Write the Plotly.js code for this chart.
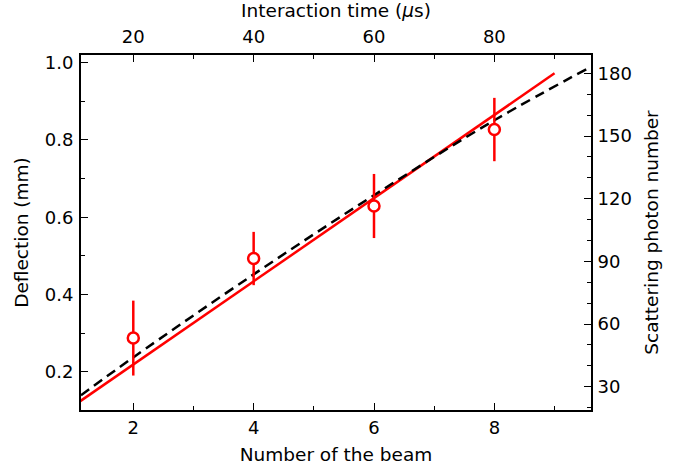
<!DOCTYPE html>
<html>
<head>
<meta charset="utf-8">
<script src="https://cdn.plot.ly/plotly-3.0.1.min.js"></script>
<style>html,body{margin:0;padding:0;background:#fff}#chart{width:681px;height:470px}</style>
</head>
<body>
<div id="chart"></div>
<script>
// Measured points (Number of the beam vs deflection in mm)
var beamNumber = [2, 4, 6, 8];
var deflection = [0.287, 0.493, 0.629, 0.827];
var deflectionErr = [0.097, 0.069, 0.083, 0.082];

// Red solid line (linear)
var redLineX = [1.0, 9.0];
var redLineY = [0.111, 0.9725];

// Black dashed curve
var dashX = [1.13, 2, 4, 6, 8, 9.61];
var dashY = [0.139, 0.237, 0.452, 0.657, 0.851, 0.99];

// Axis tick values/labels
var bottomTicks = [2, 4, 6, 8];
var topTicks = [20, 40, 60, 80];
var leftTicks = [0.2, 0.4, 0.6, 0.8, 1.0];
var leftTickText = ['0.2', '0.4', '0.6', '0.8', '1.0'];
var rightTicks = [30, 60, 90, 120, 150, 180];

var font = 'DejaVu Sans, sans-serif';

var traces = [
  {x: redLineX, y: redLineY, mode: 'lines', line: {color: '#ff0000', width: 2.5}, xaxis: 'x', yaxis: 'y', hoverinfo: 'skip'},
  {x: dashX, y: dashY, mode: 'lines', line: {color: '#000000', width: 2.5, dash: '10px,6px', shape: 'spline'}, xaxis: 'x', yaxis: 'y', hoverinfo: 'skip'},
  {x: beamNumber, y: deflection, mode: 'markers',
   error_y: {type: 'data', array: deflectionErr, visible: true, color: '#ff0000', thickness: 2.5, width: 0},
   marker: {symbol: 'circle', size: 11, color: '#ffffff', line: {color: '#ff0000', width: 2.5}},
   xaxis: 'x', yaxis: 'y'},
  {x: [], y: [], mode: 'markers', xaxis: 'x2', yaxis: 'y2', showlegend: false}
];

var axBase = {
  showgrid: false, zeroline: false, showline: true, linecolor: '#000', linewidth: 2,
  ticks: 'inside', ticklen: 7, tickwidth: 1, tickcolor: '#000',
  tickfont: {family: font, size: 18, color: '#000'}
};

var layout = {
  width: 681, height: 470,
  margin: {l: 81, r: 90, t: 55, b: 60},
  paper_bgcolor: '#fff', plot_bgcolor: '#fff',
  showlegend: false,
  font: {family: font, color: '#000'},
  xaxis: Object.assign({}, axBase, {
    range: [1.131, 9.606], tickmode: 'array', tickvals: bottomTicks, ticktext: bottomTicks.map(String),
    minor: {dtick: 1, tick0: 0, ticks: 'inside', ticklen: 4, tickcolor: '#000', tickwidth: 1},
    title: {text: 'Number of the beam', font: {family: font, size: 18.5, color: '#000'}, standoff: 11}
  }),
  xaxis2: Object.assign({}, axBase, {
    overlaying: 'x', side: 'top', anchor: 'y',
    range: [11.31, 96.06], tickmode: 'array', tickvals: topTicks, ticktext: topTicks.map(String),
    ticklabelstandoff: 3,
    minor: {dtick: 10, tick0: 0, ticks: 'inside', ticklen: 4, tickcolor: '#000', tickwidth: 1},
    title: {text: 'Interaction time (<i>μ</i>s)', font: {family: font, size: 18.5, color: '#000'}, standoff: 4}
  }),
  yaxis: Object.assign({}, axBase, {
    range: [0.1008, 1.02], tickmode: 'array', tickvals: leftTicks, ticktext: leftTickText,
    ticklabelstandoff: 2,
    minor: {dtick: 0.1, tick0: 0, ticks: 'inside', ticklen: 4, tickcolor: '#000', tickwidth: 1},
    title: {text: 'Deflection (mm)', font: {family: font, size: 18.5, color: '#000'}, standoff: 11}
  }),
  yaxis2: Object.assign({}, axBase, {
    overlaying: 'y', side: 'right', anchor: 'x',
    range: [18.85, 188.8], tickmode: 'array', tickvals: rightTicks, ticktext: rightTicks.map(String),
    ticklabelstandoff: 1,
    minor: {dtick: 10, tick0: 0, ticks: 'inside', ticklen: 4, tickcolor: '#000', tickwidth: 1},
    title: {text: 'Scattering photon number', font: {family: font, size: 18.5, color: '#000'}, standoff: 14}
  })
};

Plotly.newPlot('chart', traces, layout, {staticPlot: true, displayModeBar: false});
</script>
</body>
</html>
